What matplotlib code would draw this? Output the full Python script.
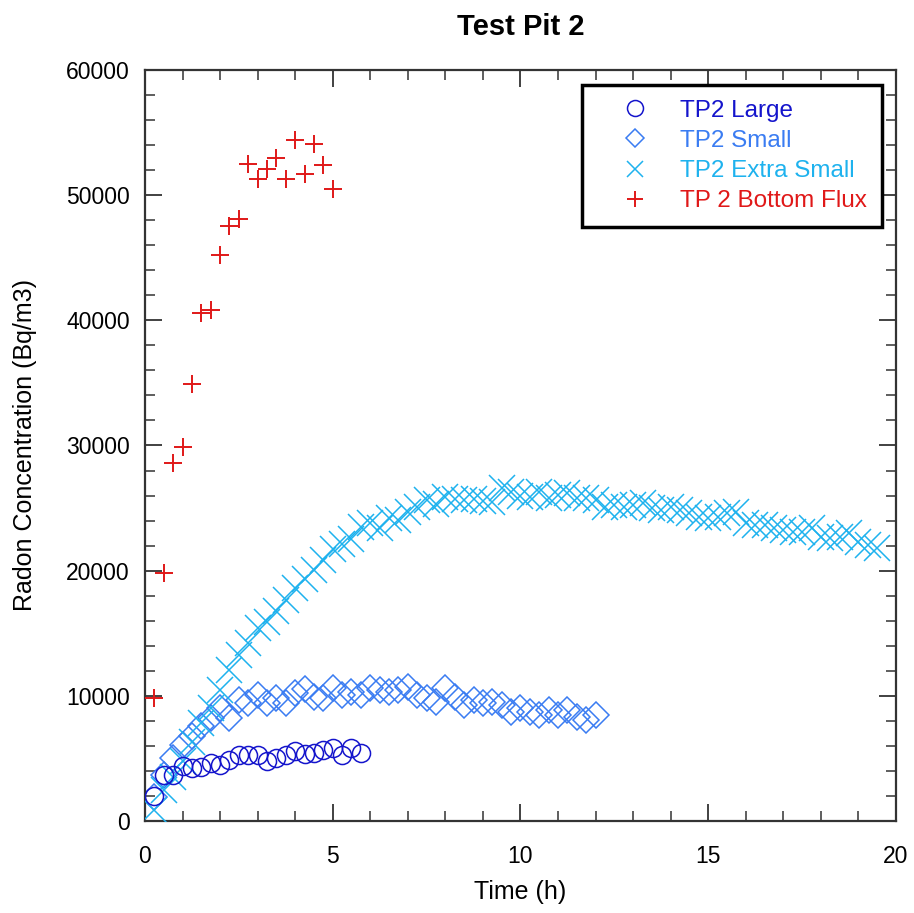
import numpy as np
import matplotlib
matplotlib.use("Agg")
import matplotlib.pyplot as plt
from matplotlib.ticker import MultipleLocator

plt.rcParams['font.family'] = ['Liberation Sans', 'DejaVu Sans']

# TP2 Large (circles)
t_large = [0.25, 0.5, 0.75, 1.0, 1.25, 1.5, 1.75, 2.0, 2.25, 2.5, 2.75, 3.0,
           3.25, 3.5, 3.75, 4.0, 4.25, 4.5, 4.75, 5.0, 5.25, 5.5, 5.75]
c_large = [2000, 3670, 3670, 4400, 4270, 4300, 4650, 4500, 4900, 5270, 5300, 5300,
           4800, 5000, 5270, 5600, 5350, 5400, 5700, 5800, 5300, 5800, 5400]

# TP2 Small (diamonds)
t_small = [0.25, 0.5, 0.75, 1.0, 1.25, 1.5, 1.75, 2.0, 2.25, 2.5, 2.75, 3.0,
           3.25, 3.5, 3.75, 4.0, 4.25, 4.5, 4.75, 5.0, 5.25, 5.5, 5.75, 6.0,
           6.25, 6.5, 6.75, 7.0, 7.25, 7.5, 7.75, 8.0, 8.25, 8.5, 8.75, 9.0,
           9.25, 9.5, 9.75, 10.0, 10.25, 10.5, 10.75, 11.0, 11.25, 11.5, 11.75, 12.0]
c_small = [1900, 3700, 5000, 6050, 6750, 7600, 8200, 9000, 8200, 9650, 9400, 10050,
           9400, 9800, 9400, 10200, 10550, 9900, 9800, 10600, 10050, 10300, 10050, 10600,
           10450, 10300, 10450, 10700, 10050, 9800, 9500, 10650, 9900, 9300, 9700, 9400,
           9500, 9250, 8700, 9000, 8700, 8500, 8900, 8500, 8900, 8300, 8100, 8450]

# TP2 Extra Small (crosses)
t_xsmall = [0.25, 0.5, 0.75, 1.0, 1.25, 1.5, 1.75, 2.0, 2.25, 2.5, 2.75, 3.0,
            3.25, 3.5, 3.75, 4.0, 4.25, 4.5, 4.75, 5.0, 5.25, 5.5, 5.75, 6.0,
            6.25, 6.5, 6.75, 7.0, 7.25, 7.5, 7.75, 8.0, 8.25, 8.5, 8.75, 9.0,
            9.25, 9.5, 9.75, 10.0, 10.25, 10.5, 10.75, 11.0, 11.25, 11.5, 11.75, 12.0,
            12.25, 12.5, 12.75, 13.0, 13.25, 13.5, 13.75, 14.0, 14.25, 14.5, 14.75, 15.0,
            15.25, 15.5, 15.75, 16.0, 16.25, 16.5, 16.75, 17.0, 17.25, 17.5, 17.75, 18.0,
            18.25, 18.5, 18.75, 19.0, 19.25, 19.5]
c_xsmall = [880, 2500, 3540, 4800, 6340, 7800, 9000, 10470, 12070, 13260, 14200, 15400,
            15900, 16800, 17660, 18600, 19300, 20050, 20850, 21700, 22100, 22500, 23500, 23800,
            23400, 24200, 24050, 24700, 25100, 25650, 25300, 25900, 25700, 25650, 25700, 25600,
            25500, 26600, 26300, 26000, 25900, 26300, 25800, 26050, 26200, 25800, 25800, 25650,
            25100, 25250, 25100, 25250, 25400, 25000, 24850, 25100, 24850, 24600, 24300, 24200,
            24300, 24600, 24700, 23800, 23650, 23650, 23400, 23250, 23100, 23100, 23400, 22700,
            22600, 22700, 23000, 22300, 22050, 21800]

# TP 2 Bottom Flux (plus)
t_flux = [0.25, 0.5, 0.75, 1.0, 1.25, 1.5, 1.75, 2.0, 2.25, 2.5,
          2.75, 3.0, 3.25, 3.5, 3.75, 4.0, 4.25, 4.5, 4.75, 5.0]
c_flux = [9850, 19800, 28600, 29850, 34950, 40550, 40850, 45250, 47500, 48100,
          52500, 51300, 52100, 53000, 51300, 54400, 51700, 54100, 52400, 50500]

col_large = '#1414CC'
col_small = '#3A7CF2'
col_xsmall = '#1EB2EE'
col_flux = '#E01818'

fig = plt.figure(figsize=(9.14, 9.13), dpi=100)
ax = fig.add_axes([0.1586, 0.1008, 0.8217, 0.8225])

ax.plot(t_xsmall, c_xsmall, 'x', ms=19, mew=1.1, color=col_xsmall, label='TP2 Extra Small', zorder=3)
ax.plot(t_small, c_small, 'D', ms=13.5, mew=1.1, mfc='none', color=col_small, label='TP2 Small', zorder=2)
ax.plot(t_large, c_large, 'o', ms=13, mew=1.1, mfc='none', color=col_large, label='TP2 Large', zorder=4)
ax.plot(t_flux, c_flux, '+', ms=13, mew=1.4, color=col_flux, label='TP 2 Bottom Flux', zorder=5)

ax.set_xlim(0, 20)
ax.set_ylim(0, 60000)
ax.xaxis.set_major_locator(MultipleLocator(5))
ax.xaxis.set_minor_locator(MultipleLocator(1))
ax.yaxis.set_major_locator(MultipleLocator(10000))
ax.yaxis.set_minor_locator(MultipleLocator(2000))
ax.tick_params(which='both', direction='in', top=True, right=True,
               labelsize=16.5, color='#333333')
ax.tick_params(which='major', length=12, width=1.3)
ax.tick_params(which='minor', length=7, width=1.1)
ax.tick_params(axis='x', which='major', pad=17)
ax.tick_params(axis='y', which='major', pad=11)
for s in ax.spines.values():
    s.set_color('#333333')
    s.set_linewidth(1.6)

ax.set_xlabel('Time (h)', fontsize=18, labelpad=9)
ax.set_ylabel('Radon Concentration (Bq/m3)', fontsize=18, labelpad=21)
ax.set_title('Test Pit 2', fontsize=21, fontweight='bold', pad=25)

# legend in the order of the reference
h, l = ax.get_legend_handles_labels()
order = [2, 1, 0, 3]
leg = ax.legend([h[i] for i in order], [l[i] for i in order],
                loc='upper right', bbox_to_anchor=(0.981, 0.980), borderaxespad=0,
                fontsize=17.5, fancybox=False, framealpha=1, edgecolor='black',
                handlelength=3.2, handletextpad=0.25, labelspacing=0.34,
                borderpad=0.6)
leg.get_frame().set_linewidth(2.5)
for hl, ms in zip(leg.legend_handles, [11.5, 9, 11, 11]):
    hl.set_markersize(ms)
for txt, hh in zip(leg.get_texts(), [h[i] for i in order]):
    txt.set_color(hh.get_color())

fig.savefig('out.png', dpi=100)
